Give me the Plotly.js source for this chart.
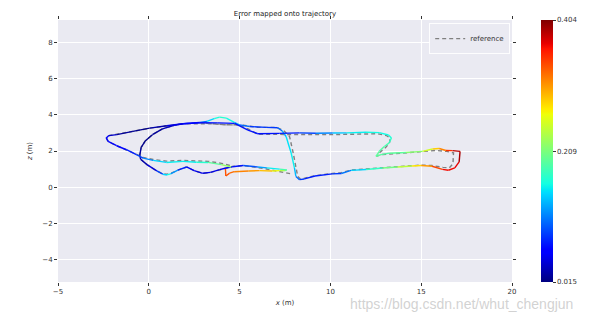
<!DOCTYPE html>
<html>
<head>
<meta charset="utf-8">
<script src="https://cdn.plot.ly/plotly-3.0.1.min.js"></script>
<style>html,body{margin:0;padding:0;background:#fff;}#chart{width:598px;height:313px;}</style>
</head>
<body>
<div id="chart"></div>
<script>
// Estimated trajectory (x, z in metres) and APE error (m) at each point
const estX = [4.22,4.24,4.45,4.7,5.5,6.1,6.8,7.2,7.5,
  7.6,7.2,6.5,6.0,5.2,4.6,
  4.2,3.9,3.4,2.97,2.5,2.08,1.6,1.2,1.0,0.77,0.44,-0.1,-0.45,
  -0.5,-0.42,-0.2,0.2,0.75,1.4,1.9,2.8,3.2,
  3.6,3.9,4.27,4.73,5.0,5.55,6.47,7.1,7.35,
  7.56,7.84,8.02,8.1,8.3,
  8.57,9.15,10.1,10.6,11.14,11.96,12.87,13.7,14.5,15.0,15.6,16.17,16.5,16.85,17.09,17.14,
  16.72,16.36,15.99,15.62,15.07,14.16,13.24,12.79,12.51,
  12.69,12.97,13.24,13.36,13.2,12.69,11.96,10.9,10.13,9.2,8.3,7.2,6.0,5.46,4.73,
  3.8,2.8,1.87,0.99,0.05,-0.88,-1.76,-2.2,-2.34,
  -2.24,-1.77,-1.23,-0.68,-0.31,0.24,0.97,1.88,2.62,3.26,4.0,4.54];
const estY = [1.05,0.62,0.78,0.86,0.9,0.92,0.9,0.92,0.92,
  0.96,1.0,1.07,1.12,1.2,1.13,
  1.05,0.97,0.82,0.77,0.92,1.12,0.95,0.74,0.68,0.72,0.9,1.25,1.55,
  1.75,2.2,2.55,2.9,3.22,3.42,3.5,3.57,3.63,
  3.78,3.87,3.81,3.57,3.44,3.35,3.3,3.28,3.1,
  2.8,1.89,1.07,0.6,0.42,
  0.46,0.62,0.74,0.76,0.93,0.98,1.06,1.12,1.17,1.2,1.16,0.99,0.94,1.07,1.4,1.98,
  2.02,2.03,2.14,2.11,1.98,1.92,1.88,1.8,1.7,
  1.98,2.25,2.45,2.72,2.88,3.01,3.03,3.0,2.99,2.98,3.0,2.97,2.95,3.15,3.52,
  3.55,3.56,3.5,3.39,3.26,3.08,2.9,2.85,2.72,
  2.53,2.29,2.07,1.8,1.61,1.48,1.37,1.43,1.38,1.37,1.25,1.12];
const estErr = [0.33,0.34,0.33,0.32,0.31,0.30,0.28,0.25,0.22,
  0.20,0.17,0.14,0.11,0.08,0.06,
  0.05,0.05,0.05,0.05,0.05,0.06,0.09,0.15,0.17,0.12,0.06,0.03,0.03,
  0.03,0.02,0.02,0.02,0.03,0.04,0.06,0.08,0.13,
  0.16,0.17,0.17,0.15,0.12,0.09,0.08,0.09,0.12,
  0.14,0.16,0.15,0.12,0.09,
  0.08,0.07,0.08,0.09,0.13,0.16,0.19,0.22,0.26,0.29,0.32,0.36,0.37,0.36,0.38,0.40,
  0.37,0.33,0.30,0.27,0.23,0.20,0.19,0.19,0.20,
  0.19,0.19,0.18,0.17,0.16,0.16,0.16,0.15,0.13,0.10,0.08,0.07,0.07,0.07,0.07,
  0.07,0.07,0.06,0.04,0.02,0.02,0.03,0.05,0.06,
  0.06,0.06,0.07,0.08,0.10,0.13,0.16,0.15,0.16,0.18,0.21,0.23];

// Reference trajectory
const refX = [7.78,7.2,6.47,5.8,5.18,4.6,
  4.2,3.9,3.4,2.97,2.5,2.08,1.6,1.2,1.0,0.77,0.44,-0.1,-0.45,
  -0.5,-0.42,-0.2,0.2,0.75,1.4,1.9,2.8,3.5,4.2,4.8,
  5.2,6.0,7.0,7.4,7.75,7.95,8.1,8.2,8.35,
  8.6,9.15,10.1,10.6,11.14,12.0,12.9,13.8,15.0,15.6,16.2,16.55,16.75,16.78,
  16.4,15.8,15.2,14.2,13.2,12.8,12.55,
  12.75,13.05,13.25,13.3,13.1,12.6,12.0,10.9,10.1,9.2,8.3,7.2,6.0,5.5,4.9,4.2,3.5,2.8,
  1.87,0.99,0.05,-0.88,-1.76,-2.2,-2.34,
  -2.24,-1.77,-1.23,-0.68,-0.31,0.24,0.97,1.88,2.62,3.26,4.0,4.6];
const refY = [0.75,0.88,1.01,1.12,1.19,1.15,
  1.05,0.97,0.82,0.77,0.92,1.12,0.95,0.76,0.72,0.74,0.9,1.25,1.55,
  1.75,2.2,2.55,2.9,3.22,3.42,3.5,3.52,3.5,3.45,3.45,
  3.42,3.3,3.3,3.15,2.8,1.9,1.1,0.6,0.45,
  0.5,0.64,0.76,0.8,0.95,1.0,1.07,1.14,1.22,1.2,1.1,1.07,1.3,1.9,
  1.98,2.03,1.98,1.9,1.84,1.8,1.72,
  1.95,2.2,2.45,2.7,2.85,2.95,2.95,2.92,2.9,2.9,2.92,2.9,2.92,3.2,3.45,3.45,3.5,3.56,
  3.5,3.39,3.26,3.08,2.9,2.85,2.72,
  2.53,2.29,2.07,1.82,1.65,1.53,1.44,1.48,1.45,1.43,1.32,1.17];

const errMin = 0.015, errMax = 0.404;
const cbTickVals = [0.015, 0.209, 0.404];
const cbTickText = ['0.015', '0.209', '0.404'];
const xTicks = [-5, 0, 5, 10, 15, 20];
const yTicks = [-4, -2, 0, 2, 4, 6, 8];

// matplotlib "jet" colormap stops
const jetStops = [
  [0, [0,0,127]], [0.11, [0,0,255]], [0.125, [0,0,255]], [0.34, [0,219,255]],
  [0.35, [0,230,247]], [0.375, [20,255,226]], [0.64, [239,255,8]], [0.65, [247,245,0]],
  [0.66, [255,236,0]], [0.89, [255,19,0]], [0.91, [232,0,0]], [1, [127,0,0]]
];
const jetScale = jetStops.map(s => [s[0], 'rgb(' + s[1].join(',') + ')']);
function jet(v) {
  let t = (v - errMin) / (errMax - errMin);
  t = Math.max(0, Math.min(1, t));
  for (let i = 1; i < jetStops.length; i++) {
    if (t <= jetStops[i][0]) {
      const a = jetStops[i-1], b = jetStops[i];
      const f = (t - a[0]) / (b[0] - a[0] || 1);
      const c = a[1].map((ca, k) => Math.round(ca + (b[1][k] - ca) * f));
      return 'rgb(' + c.join(',') + ')';
    }
  }
  return 'rgb(127,0,0)';
}

const FONT = 'DejaVu Sans, sans-serif';
const traces = [];
traces.push({
  x: refX, y: refY, type: 'scatter', mode: 'lines', name: 'reference',
  line: {color: 'rgb(128,128,128)', width: 1.4, dash: '4px,3px'},
  hoverinfo: 'skip'
});
for (let i = 0; i < estX.length - 1; i++) {
  traces.push({
    x: [estX[i], estX[i+1]], y: [estY[i], estY[i+1]],
    type: 'scatter', mode: 'lines', showlegend: false, hoverinfo: 'skip',
    line: {color: jet((estErr[i] + estErr[i+1]) / 2), width: 1.4}
  });
}
traces.push({
  x: estX, y: estY, type: 'scatter', mode: 'markers', showlegend: false, hoverinfo: 'skip',
  marker: {
    size: 1, opacity: 0, color: estErr, colorscale: jetScale, cmin: errMin, cmax: errMax,
    showscale: true,
    colorbar: {
      x: 1.0642, xanchor: 'left', xpad: 0, y: 0.5, yanchor: 'middle', len: 1, ypad: 0,
      thickness: 12, outlinewidth: 0,
      tickvals: cbTickVals, ticktext: cbTickText, ticks: 'outside', ticklen: 3,
      tickcolor: '#333', tickfont: {family: FONT, size: 7, color: '#333'}
    }
  }
});

const axisCommon = {
  showgrid: true, gridcolor: '#ffffff', gridwidth: 1, zeroline: false,
  ticks: 'outside', ticklen: 3, tickwidth: 1, tickcolor: '#333', mirror: 'ticks',
  showline: false, tickfont: {family: FONT, size: 7, color: '#333'}
};
const layout = {
  width: 598, height: 313,
  margin: {l: 58, r: 86, t: 20, b: 31},
  paper_bgcolor: '#ffffff', plot_bgcolor: '#eaeaf2',
  font: {family: FONT, size: 7, color: '#333'},
  title: {text: 'Error mapped onto trajectory', font: {family: FONT, size: 7, color: '#222'},
          x: 0.5, xref: 'paper', y: 1 - 14/313, yref: 'container', yanchor: 'middle'},
  xaxis: Object.assign({}, axisCommon, {
    range: [-5, 20], tickvals: xTicks, ticktext: xTicks.map(v => v < 0 ? '\u2212' + Math.abs(v) : String(v)),
    title: {text: '<i>x</i> (m)', font: {family: FONT, size: 7, color: '#333'}, standoff: 4}
  }),
  yaxis: Object.assign({}, axisCommon, {
    range: [-5.22, 9.22], tickvals: yTicks, ticktext: yTicks.map(v => v < 0 ? '\u2212' + Math.abs(v) : String(v)),
    title: {text: '<i>z</i> (m)', font: {family: FONT, size: 7, color: '#333'}, standoff: 8}
  }),
  legend: {x: 0.996, y: 0.988, xanchor: 'right', yanchor: 'top',
           bgcolor: '#eaeaf2', bordercolor: 'rgba(255,255,255,0.9)', borderwidth: 1,
           font: {family: FONT, size: 7, color: '#333'}, itemwidth: 30},
  showlegend: true,
  annotations: [{
    text: 'https://blog.csdn.net/whut_chengjun', xref: 'paper', yref: 'paper',
    x: 0.889, y: -0.083, xanchor: 'center', yanchor: 'middle', showarrow: false,
    font: {family: 'Liberation Sans, Arial, sans-serif', size: 14, color: 'rgba(195,195,195,0.75)'}
  }]
};
Plotly.newPlot('chart', traces, layout, {staticPlot: true, displayModeBar: false});
</script>
</body>
</html>
